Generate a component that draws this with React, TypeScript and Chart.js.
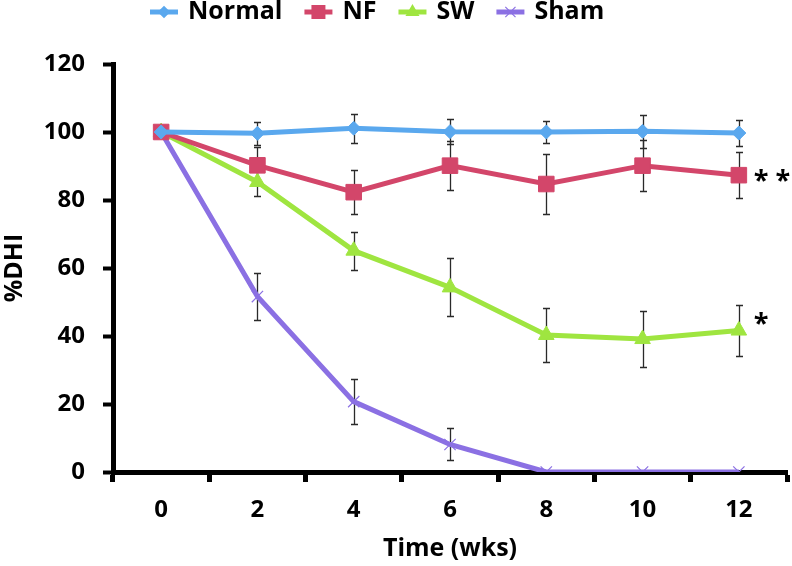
import React, { useEffect, useRef } from "react";
import { Chart, registerables } from "chart.js";

Chart.register(...registerables);

// ---- data ----
const weeks = ["0", "2", "4", "6", "8", "10", "12"];
const yTickValues = [0, 20, 40, 60, 80, 100, 120];

const seriesNames = ["Normal", "NF", "SW", "Sham"];

const normalValues = [100, 99.6, 101.1, 100.1, 100.0, 100.2, 99.7];
const normalErrors = [0, 3.4, 4.2, 3.6, 3.3, 4.8, 3.7];

const nfValues = [100, 90.2, 82.3, 90.1, 84.7, 90.1, 87.3];
const nfErrors = [0, 5.5, 6.4, 7.3, 8.9, 7.5, 6.7];

const swValues = [100, 85.3, 65.1, 54.3, 40.3, 39.1, 41.6];
const swErrors = [0, 4.0, 5.6, 8.5, 7.9, 8.2, 7.4];

const shamValues = [100, 51.6, 20.7, 8.1, 0, 0, 0];
const shamErrors = [0, 7.0, 6.6, 4.7, 0, 0, 0];

const significanceMarks = ["", "* *", "*", ""];
const significanceLevels = [0, 87.1, 45.1, 0];

const seriesValues = [normalValues, nfValues, swValues, shamValues];
const seriesErrors = [normalErrors, nfErrors, swErrors, shamErrors];

// ---- styles ----
const seriesColors = ["#5AA8EE", "#D3466A", "#9FE540", "#8B70E3"];
const pointStyles = ["rectRot", "rect", "triangle", "crossRot"];
const pointRadii = [7, 11, 9, 8];
const FONT = "'Open Sans', Lato, sans-serif";

function drawMarker(ctx: CanvasRenderingContext2D, style: string, x: number, y: number, r: number, color: string) {
  ctx.save();
  ctx.fillStyle = color;
  ctx.strokeStyle = color;
  ctx.lineWidth = 1.2;
  ctx.beginPath();
  if (style === "rectRot") {
    ctx.moveTo(x - r, y);
    ctx.lineTo(x, y - r);
    ctx.lineTo(x + r, y);
    ctx.lineTo(x, y + r);
    ctx.closePath();
    ctx.fill();
  } else if (style === "rect") {
    const s = r * Math.SQRT1_2;
    ctx.rect(x - s, y - s, 2 * s, 2 * s);
    ctx.fill();
  } else if (style === "triangle") {
    const w = (r * Math.sqrt(3)) / 2;
    ctx.moveTo(x, y - r);
    ctx.lineTo(x + w, y + r / 2);
    ctx.lineTo(x - w, y + r / 2);
    ctx.closePath();
    ctx.fill();
  } else {
    const d = r * Math.SQRT1_2;
    ctx.moveTo(x - d, y - d);
    ctx.lineTo(x + d, y + d);
    ctx.moveTo(x + d, y - d);
    ctx.lineTo(x - d, y + d);
    ctx.stroke();
  }
  ctx.restore();
}

const errorBarsPlugin = {
  id: "errorBars",
  beforeDatasetsDraw(chart: any) {
    const { ctx } = chart;
    const y = chart.scales.y;
    ctx.save();
    ctx.strokeStyle = "#2a2a2a";
    ctx.lineWidth = 1.3;
    seriesErrors.forEach((errs, i) => {
      const meta = chart.getDatasetMeta(i);
      const values = seriesValues[i];
      meta.data.forEach((pt: any, j: number) => {
        const e = errs[j];
        if (!e) return;
        const x = Math.round(pt.x) + 0.5;
        const yTop = Math.round(y.getPixelForValue(values[j] + e)) + 0.5;
        const yBot = Math.round(y.getPixelForValue(values[j] - e)) + 0.5;
        ctx.beginPath();
        ctx.moveTo(x, yTop);
        ctx.lineTo(x, yBot);
        ctx.moveTo(x - 3.5, yTop);
        ctx.lineTo(x + 3.5, yTop);
        ctx.moveTo(x - 3.5, yBot);
        ctx.lineTo(x + 3.5, yBot);
        ctx.stroke();
      });
    });
    ctx.restore();
  },
};

const significancePlugin = {
  id: "significance",
  afterDatasetsDraw(chart: any) {
    const { ctx } = chart;
    const y = chart.scales.y;
    ctx.save();
    ctx.font = `bold 27px ${FONT}`;
    ctx.fillStyle = "#000";
    ctx.textAlign = "left";
    ctx.textBaseline = "alphabetic";
    significanceMarks.forEach((mark, i) => {
      if (!mark) return;
      const meta = chart.getDatasetMeta(i);
      const last = meta.data[meta.data.length - 1];
      const m = ctx.measureText(mark);
      const yPix = y.getPixelForValue(significanceLevels[i]);
      const yDraw = yPix + (m.actualBoundingBoxAscent - m.actualBoundingBoxDescent) / 2;
      ctx.fillText(mark, last.x + 15, yDraw);
    });
    ctx.restore();
  },
};

const legendPlugin = {
  id: "lineMarkerLegend",
  afterDraw(chart: any) {
    const { ctx } = chart;
    ctx.save();
    ctx.font = `bold 25px ${FONT}`;
    ctx.textBaseline = "middle";
    ctx.textAlign = "left";
    let x = 150;
    const yc = 12;
    seriesNames.forEach((name, i) => {
      ctx.strokeStyle = seriesColors[i];
      ctx.lineWidth = 5;
      ctx.beginPath();
      ctx.moveTo(x, yc);
      ctx.lineTo(x + 28, yc);
      ctx.stroke();
      drawMarker(ctx, pointStyles[i], x + 14, yc, pointRadii[i] * 0.9, seriesColors[i]);
      ctx.fillStyle = "#000";
      ctx.fillText(name, x + 38, yc);
      x += 38 + ctx.measureText(name).width + 22;
    });
    ctx.restore();
  },
};

export default function App() {
  const canvasRef = useRef<HTMLCanvasElement | null>(null);

  useEffect(() => {
    document.body.style.margin = "0";
    const canvas = canvasRef.current;
    if (!canvas) return;

    const datasets = seriesNames.map((name, i) => ({
      label: name,
      data: seriesValues[i],
      borderColor: seriesColors[i],
      backgroundColor: seriesColors[i],
      pointBackgroundColor: seriesColors[i],
      pointBorderColor: seriesColors[i],
      pointStyle: pointStyles[i],
      pointRadius: pointRadii[i],
      pointBorderWidth: pointStyles[i] === "crossRot" ? 1.2 : 1,
      borderWidth: 5,
      tension: 0,
      fill: false,
    }));

    const chart = new Chart(canvas, {
      type: "line",
      data: { labels: weeks, datasets },
      plugins: [errorBarsPlugin, significancePlugin, legendPlugin],
      options: {
        responsive: false,
        animation: false,
        layout: { autoPadding: false, padding: { top: 64, right: 5, left: 0, bottom: 0 } },
        plugins: {
          legend: { display: false },
          tooltip: { enabled: false },
        },
        scales: {
          x: {
            type: "category",
            offset: true,
            afterFit: (scale: any) => {
              scale.height = 94;
              scale.paddingLeft = 0;
              scale.paddingRight = 0;
            },
            grid: {
              offset: true,
              drawOnChartArea: false,
              drawTicks: true,
              tickLength: 10,
              tickWidth: 5,
              tickColor: "#000",
            },
            border: { display: true, color: "#000", width: 5 },
            ticks: {
              color: "#000",
              padding: 14,
              font: { family: FONT, size: 24, weight: "bold" },
              maxRotation: 0,
            },
            title: {
              display: true,
              text: "Time (wks)",
              color: "#000",
              font: { family: FONT, size: 25, weight: "bold" },
              padding: { top: 0, bottom: 2 },
            },
          },
          y: {
            min: 0,
            max: 120,
            afterFit: (scale: any) => {
              scale.width = 113;
            },
            afterBuildTicks: (scale: any) => {
              scale.ticks = yTickValues.map((v) => ({ value: v }));
            },
            grid: {
              drawOnChartArea: false,
              drawTicks: true,
              tickLength: 10,
              tickWidth: 4,
              tickColor: "#000",
            },
            border: { display: true, color: "#000", width: 5 },
            ticks: {
              color: "#000",
              padding: 18,
              font: { family: FONT, size: 24, weight: "bold" },
            },
            title: {
              display: true,
              text: "%DHI",
              color: "#000",
              font: { family: FONT, size: 25, weight: "bold" },
              padding: { top: 0, bottom: 0 },
            },
          },
        },
      },
    });

    return () => chart.destroy();
  }, []);

  return (
    <div style={{ width: 792, height: 566 }}>
      <canvas ref={canvasRef} width={792} height={566} style={{ display: "block" }} />
    </div>
  );
}
